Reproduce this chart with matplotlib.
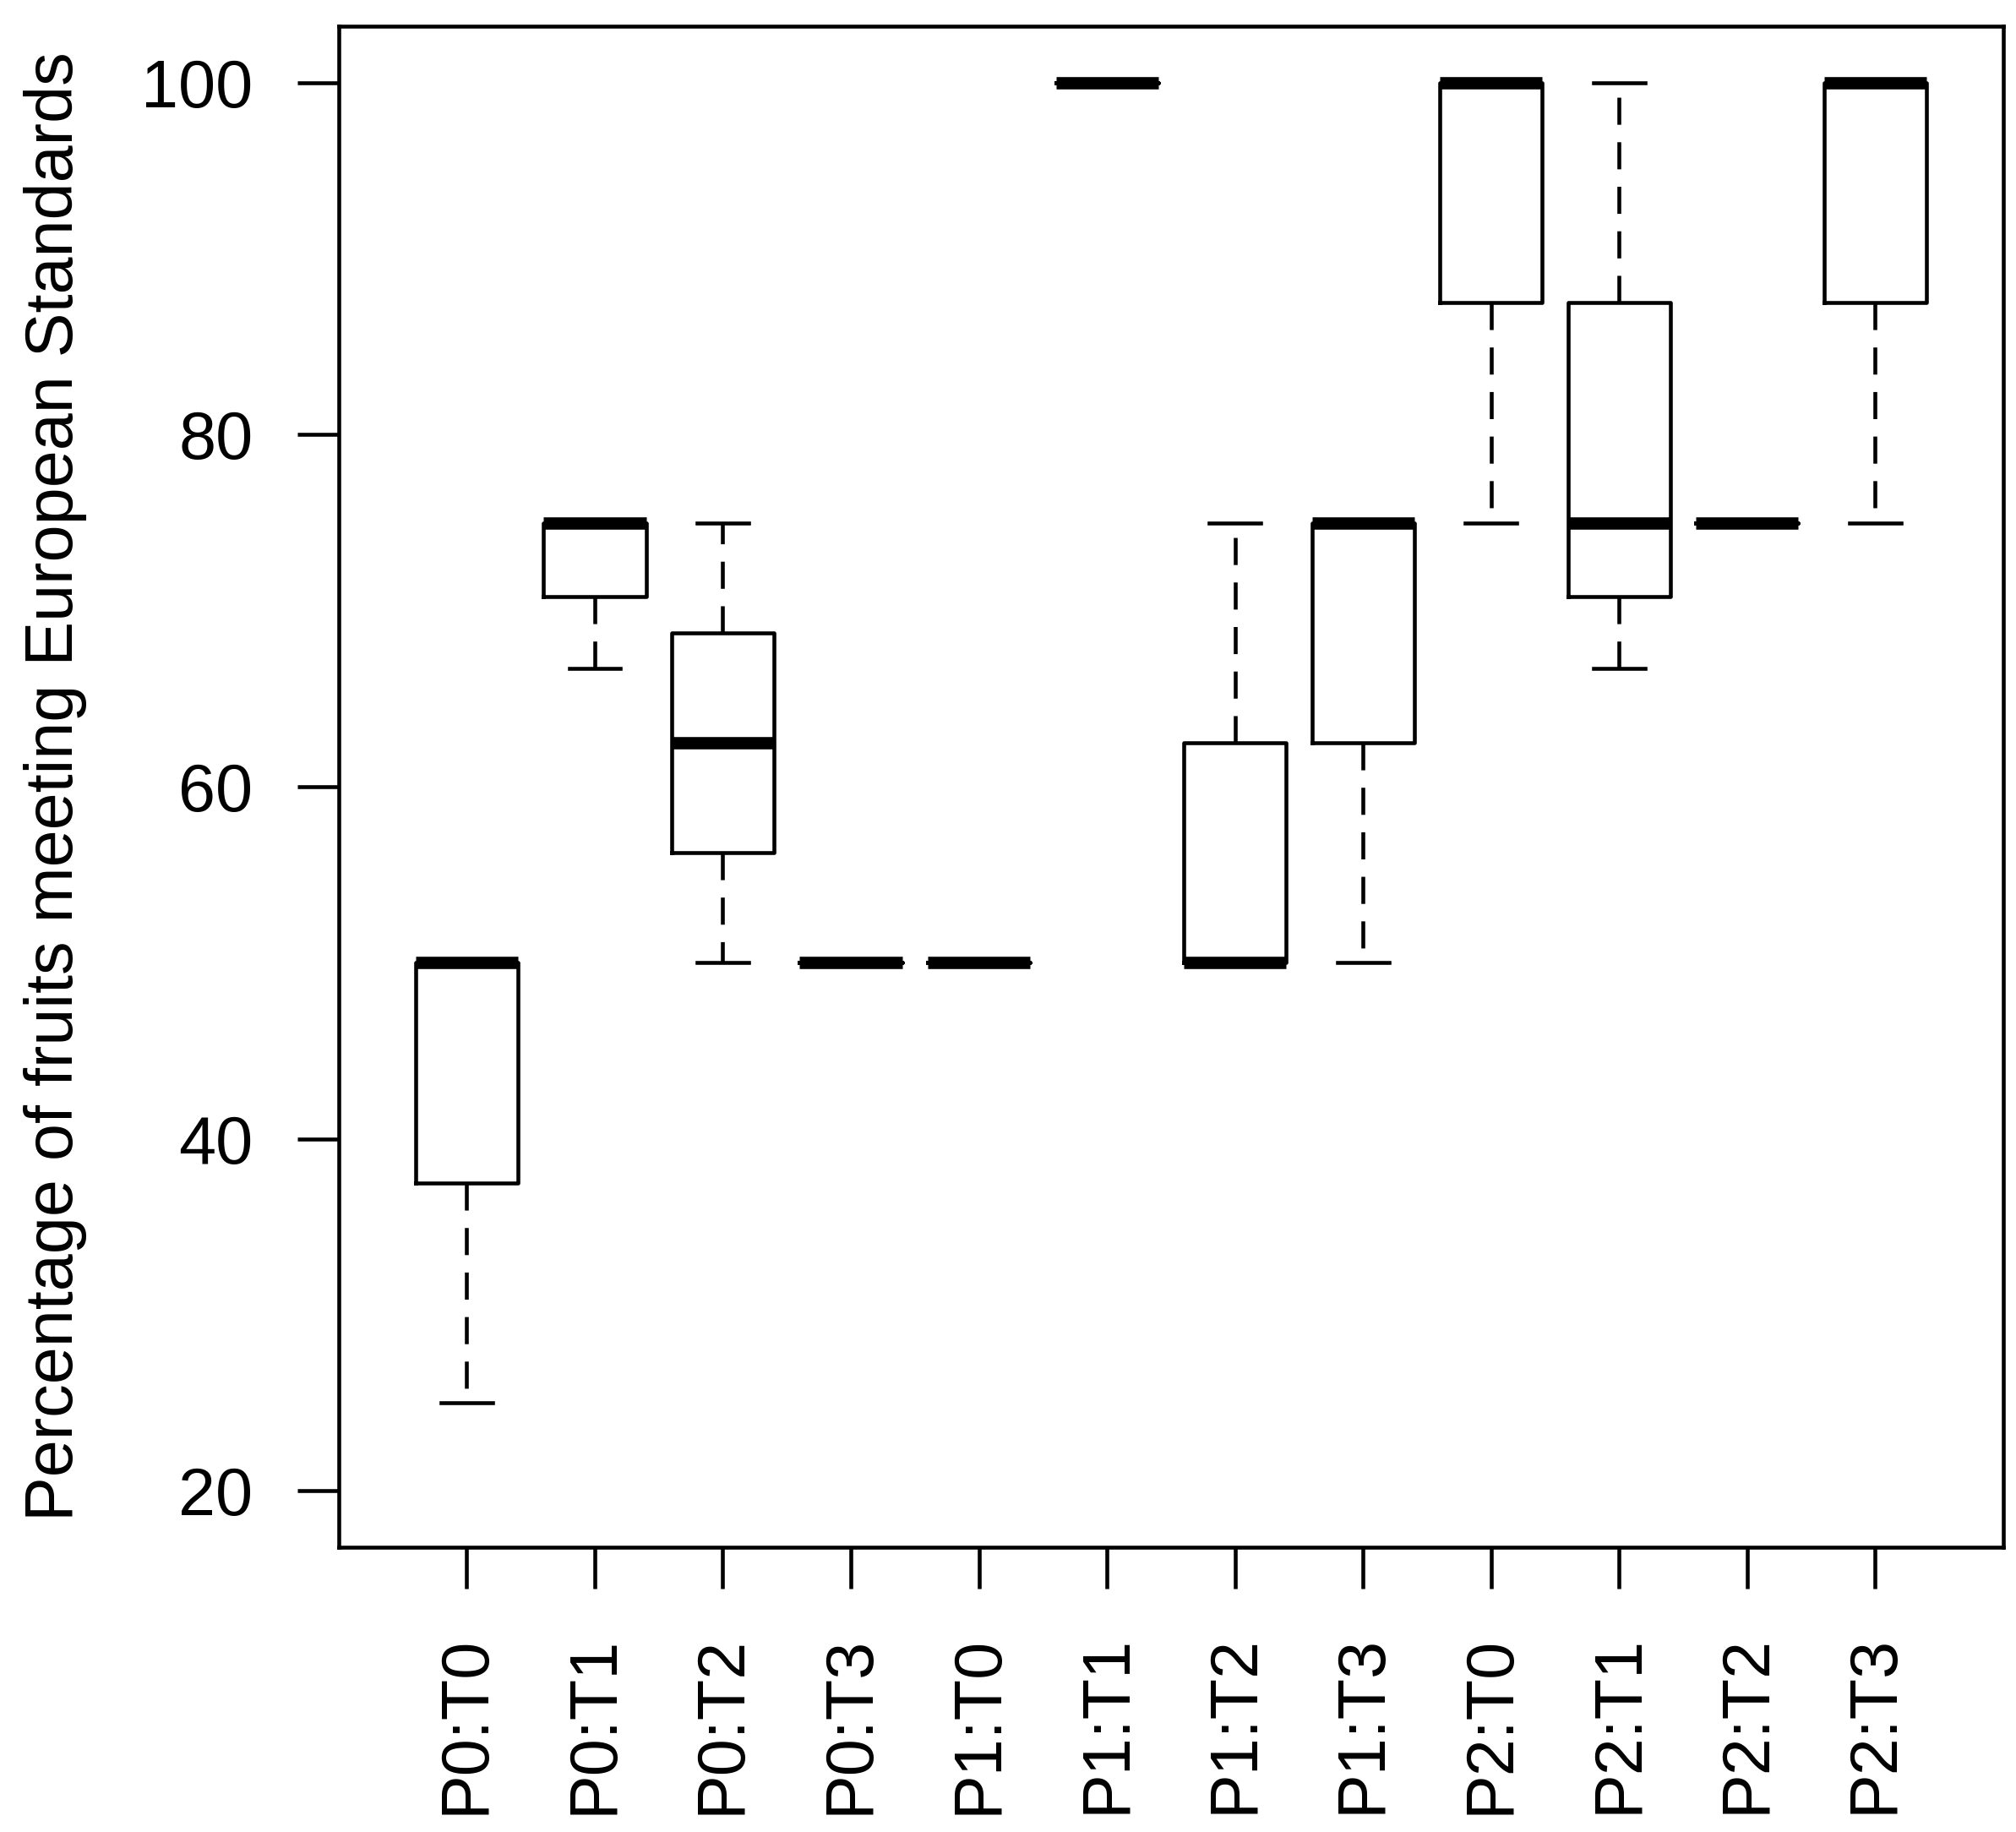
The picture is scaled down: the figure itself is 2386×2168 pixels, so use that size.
import matplotlib
matplotlib.use("Agg")
import matplotlib.pyplot as plt

plt.rcParams['font.family'] = ['Liberation Sans', 'DejaVu Sans']

groups = ["P0:T0", "P0:T1", "P0:T2", "P0:T3", "P1:T0", "P1:T1",
          "P1:T2", "P1:T3", "P2:T0", "P2:T1", "P2:T2", "P2:T3"]
whis_lo = [25.0, 66.7, 50.0, 50.0, 50.0, 100.0, 50.0, 50.0, 75.0, 66.7, 75.0, 75.0]
q1 = [37.5, 70.8, 56.25, 50.0, 50.0, 100.0, 50.0, 62.5, 87.5, 70.8, 75.0, 87.5]
med = [50.0, 75.0, 62.5, 50.0, 50.0, 100.0, 50.0, 75.0, 100.0, 75.0, 75.0, 100.0]
q3 = [50.0, 75.0, 68.75, 50.0, 50.0, 100.0, 62.5, 75.0, 100.0, 87.5, 75.0, 100.0]
whis_hi = [50.0, 75.0, 75.0, 50.0, 50.0, 100.0, 75.0, 75.0, 100.0, 100.0, 75.0, 100.0]

stats = []
for i in range(len(groups)):
    stats.append({'label': groups[i], 'whislo': whis_lo[i], 'q1': q1[i], 'med': med[i],
                  'q3': q3[i], 'whishi': whis_hi[i], 'fliers': []})

fig = plt.figure(figsize=(23.86, 21.68), dpi=100)
ax = fig.add_axes([0.168, 0.1554, 0.8257, 0.8303])

lw = 3.3
pos = list(range(1, len(groups) + 1))
ax.bxp(stats, positions=pos, widths=0.8, capwidths=0.4, showfliers=False,
       boxprops=dict(color='black', linewidth=lw),
       medianprops=dict(color='black', linewidth=10.5, solid_capstyle='butt'),
       whiskerprops=dict(color='black', linewidth=lw, linestyle=(0, (7, 4.5))),
       capprops=dict(color='black', linewidth=lw))

ax.set_xlim(0, 13)
ax.set_ylim(16.8, 103.2)
ax.set_yticks([20, 40, 60, 80, 100])
ax.set_xticks(pos)
ax.set_xticklabels(groups, rotation=90)

for s in ax.spines.values():
    s.set_linewidth(lw)
ax.tick_params(axis='y', labelsize=57, length=35, width=lw, pad=38)
ax.tick_params(axis='x', labelsize=57, length=35, width=lw, pad=40)

ax.set_ylabel("Percentage of fruits meeting European Standards", fontsize=57)
ax.yaxis.set_label_coords(-0.151, 0.5)

fig.savefig("out.png", dpi=100)
